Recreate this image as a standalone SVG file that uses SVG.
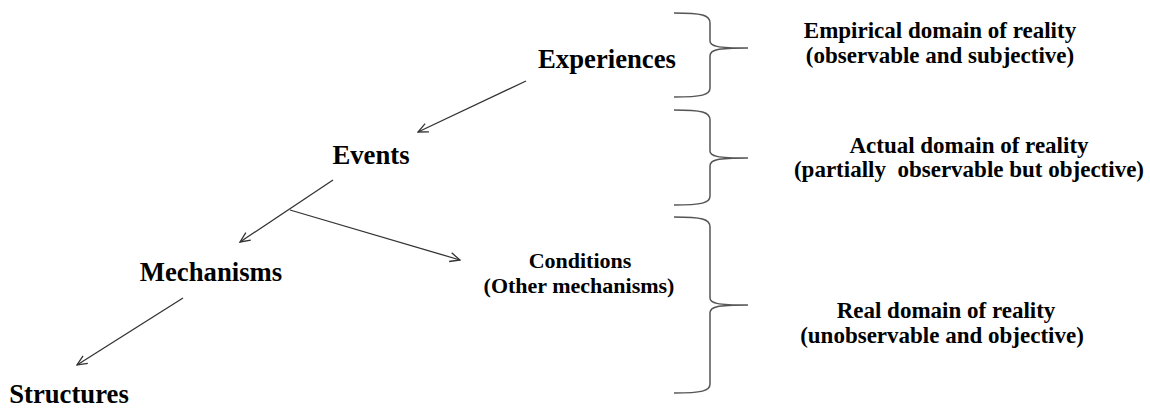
<svg xmlns="http://www.w3.org/2000/svg" width="1150" height="410" viewBox="0 0 1150 410">
  <style>
    .node { font-family: "Liberation Serif", "Times New Roman", serif; font-weight: bold; font-size: 26.7px; fill: #000; text-anchor: middle; }
    .sub { font-family: "Liberation Serif", "Times New Roman", serif; font-weight: bold; font-size: 22px; fill: #000; text-anchor: middle; }
    .domain { font-family: "Liberation Serif", "Times New Roman", serif; font-weight: bold; font-size: 23px; fill: #000; text-anchor: middle; }
    .keep-spaces { white-space: pre; }
    .conn { stroke: #333; stroke-width: 1.3; fill: none; }
    .brace { stroke: #555; stroke-width: 1.5; fill: none; }
  </style>
  <defs>
    <marker id="open-arrow" viewBox="0 0 12 12" refX="11" refY="6" markerWidth="12" markerHeight="12" markerUnits="userSpaceOnUse" orient="auto">
      <path d="M1,1.5 L11,6 L1,10.5" fill="none" stroke="#333" stroke-width="1.3"/>
    </marker>
  </defs>

  <rect width="1150" height="410" fill="#fff"/>

  <!-- connectors -->
  <g id="connectors">
    <line class="conn" x1="526" y1="81" x2="418" y2="132" marker-end="url(#open-arrow)"/>
    <line class="conn" x1="333" y1="180" x2="240" y2="242" marker-end="url(#open-arrow)"/>
    <line class="conn" x1="290" y1="210" x2="460" y2="260" marker-end="url(#open-arrow)"/>
    <line class="conn" x1="183" y1="298" x2="77" y2="365" marker-end="url(#open-arrow)"/>
  </g>

  <!-- nodes -->
  <g id="experiences"><text class="node" x="607" y="68">Experiences</text></g>
  <g id="events"><text class="node" x="371" y="164">Events</text></g>
  <g id="mechanisms"><text class="node" x="211" y="281">Mechanisms</text></g>
  <g id="structures"><text class="node" x="69" y="403">Structures</text></g>
  <g id="conditions">
    <text class="sub" x="580" y="268">Conditions</text>
    <text class="sub" x="579" y="293">(Other mechanisms)</text>
  </g>

  <!-- braces grouping the domains -->
  <g id="brace-empirical">
    <path class="brace" d="M674,13 C702,13 710,15 710,23 L710,41 C710,46 716,48 748,48 C716,48 710,50 710,56 L710,88 C710,95 702,97 674,97"/>
  </g>
  <g id="brace-actual">
    <path class="brace" d="M674,110 C702,110 710,112 710,120 L710,151 C710,156 716,158 748,158 C716,158 710,160 710,166 L710,196 C710,203 702,205 674,205"/>
  </g>
  <g id="brace-real">
    <path class="brace" d="M674,217 C702,217 710,219 710,227 L710,298 C710,303 716,305 748,305 C716,305 710,307 710,313 L710,384 C710,391 702,393 674,393"/>
  </g>

  <!-- domain labels -->
  <g id="empirical-domain">
    <text class="domain" x="940" y="38">Empirical domain of reality</text>
    <text class="domain" x="940" y="63">(observable and subjective)</text>
  </g>
  <g id="actual-domain">
    <text class="domain" x="969" y="153">Actual domain of reality</text>
    <text class="domain keep-spaces" x="969" y="177">(partially  observable but objective)</text>
  </g>
  <g id="real-domain">
    <text class="domain" x="946" y="318">Real domain of reality</text>
    <text class="domain" x="942" y="343">(unobservable and objective)</text>
  </g>
</svg>
